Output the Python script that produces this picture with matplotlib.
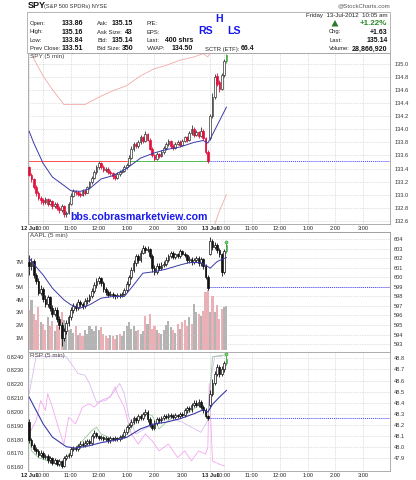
import matplotlib
matplotlib.use('Agg')
import matplotlib.pyplot as plt
from matplotlib.patches import Rectangle, Polygon

plt.rcParams['font.family'] = ['Liberation Sans', 'DejaVu Sans']

# ---------------- data ----------------
bar_pos = list(range(86))  # 5-min bars: 12 Jul 9:30-15:55 (0-77), 13 Jul 9:30-10:05 (78-85)
tick_pos = [0, 6, 18, 30, 42, 54, 66, 78, 84, 96, 108, 120, 132, 144]
tick_labels = ['12 Jul', '10:00', '11:00', '12:00', '1:00', '2:00', '3:00',
               '13 Jul', '10:00', '11:00', '12:00', '1:00', '2:00', '3:00']

spy_open = [133.42, 133.30, 133.24, 133.12, 133.02, 132.95, 132.92, 132.88, 132.93, 132.86,
            132.90, 132.82, 132.86, 132.80, 132.76, 132.82, 132.70, 132.72, 132.86, 132.98,
            133.05, 133.04, 133.01, 132.99, 133.06, 133.03, 133.11, 133.19, 133.26, 133.34,
            133.42, 133.48, 133.43, 133.38, 133.40, 133.35, 133.33, 133.29, 133.26, 133.32,
            133.35, 133.36, 133.42, 133.46, 133.56, 133.70, 133.78, 133.74, 133.80, 133.88,
            133.82, 133.93, 133.84, 133.70, 133.60, 133.55, 133.62, 133.59, 133.65, 133.71,
            133.78, 133.82, 133.75, 133.72, 133.78, 133.81, 133.76, 133.82, 133.88, 133.84,
            133.95, 134.01, 133.92, 133.96, 133.90, 133.98, 133.86, 133.66,
            133.86, 134.20, 134.50, 134.82, 134.72, 134.62, 134.84, 135.04]
spy_high = [133.44, 133.33, 133.26, 133.15, 133.05, 132.98, 132.95, 132.96, 132.95, 132.93,
            132.92, 132.89, 132.88, 132.83, 132.85, 132.84, 132.75, 132.88, 133.02, 133.08,
            133.07, 133.06, 133.04, 133.08, 133.08, 133.13, 133.21, 133.28, 133.37, 133.45,
            133.51, 133.50, 133.45, 133.42, 133.42, 133.38, 133.35, 133.31, 133.34, 133.37,
            133.39, 133.45, 133.49, 133.60, 133.74, 133.81, 133.80, 133.84, 133.91, 133.90,
            133.97, 133.94, 133.86, 133.73, 133.63, 133.65, 133.64, 133.68, 133.74, 133.80,
            133.85, 133.84, 133.77, 133.80, 133.84, 133.83, 133.85, 133.90, 133.90, 133.98,
            134.06, 134.03, 133.99, 133.97, 134.03, 134.00, 133.88, 133.68,
            134.24, 134.55, 134.85, 134.86, 134.75, 134.86, 135.08, 135.16]
spy_low = [133.28, 133.20, 133.08, 132.98, 132.92, 132.86, 132.84, 132.86, 132.82, 132.84,
           132.78, 132.80, 132.76, 132.72, 132.74, 132.66, 132.65, 132.70, 132.84, 132.96,
           133.00, 132.98, 132.96, 132.98, 133.00, 133.02, 133.09, 133.17, 133.24, 133.32,
           133.40, 133.40, 133.35, 133.35, 133.32, 133.30, 133.24, 133.22, 133.24, 133.29,
           133.33, 133.34, 133.40, 133.44, 133.54, 133.67, 133.71, 133.72, 133.78, 133.79,
           133.80, 133.82, 133.68, 133.57, 133.51, 133.53, 133.56, 133.57, 133.63, 133.69,
           133.75, 133.72, 133.69, 133.70, 133.76, 133.73, 133.74, 133.80, 133.81, 133.82,
           133.92, 133.89, 133.90, 133.86, 133.88, 133.84, 133.63, 133.49,
           133.84, 134.17, 134.46, 134.66, 134.58, 134.60, 134.80, 135.02]
spy_close = [133.30, 133.24, 133.12, 133.02, 132.95, 132.92, 132.88, 132.93, 132.86, 132.90,
             132.82, 132.86, 132.80, 132.76, 132.82, 132.70, 132.72, 132.86, 132.98, 133.05,
             133.04, 133.01, 132.99, 133.06, 133.03, 133.11, 133.19, 133.26, 133.34, 133.42,
             133.48, 133.43, 133.38, 133.40, 133.35, 133.33, 133.29, 133.26, 133.32, 133.35,
             133.36, 133.42, 133.46, 133.56, 133.70, 133.78, 133.74, 133.80, 133.88, 133.82,
             133.93, 133.84, 133.70, 133.60, 133.55, 133.62, 133.59, 133.65, 133.71, 133.78,
             133.82, 133.75, 133.72, 133.78, 133.81, 133.76, 133.82, 133.88, 133.84, 133.95,
             134.01, 133.92, 133.96, 133.90, 133.98, 133.86, 133.66, 133.51,
             134.20, 134.50, 134.80, 134.70, 134.62, 134.84, 135.04, 135.14]
spy_prev_close = 133.51
spy_ma_x = [0, 2, 6, 10, 15, 18, 22, 26, 31, 36, 42, 48, 54, 59, 65, 71, 75, 77, 79, 82, 85]
spy_ma_y = [133.97, 133.79, 133.48, 133.27, 133.14, 133.06, 133.05, 133.09, 133.24, 133.29,
            133.40, 133.56, 133.64, 133.69, 133.73, 133.80, 133.83, 133.79, 133.92, 134.13, 134.34]
spy_upper_x = [0, 2, 6, 10, 15, 24, 31, 36, 42, 48, 54, 59, 65, 71, 75, 77, 80]
spy_upper_y = [135.35, 135.08, 134.82, 134.61, 134.38, 134.38, 134.51, 134.59, 134.67, 134.82,
               134.93, 134.98, 135.06, 135.11, 135.16, 135.11, 135.30]
spy_lower_x = [78, 80, 82, 85]
spy_lower_y = [132.30, 132.55, 132.75, 133.00]

aapl_open = [601.6, 601.2, 601.7, 600.2, 599.6, 598.4, 598.8, 597.7, 597.2, 597.9,
             596.8, 596.2, 596.6, 595.6, 595.0, 593.6, 594.4, 595.2, 595.8, 596.6,
             597.0, 596.8, 597.4, 597.2, 597.0, 597.5, 597.6, 598.0, 598.6, 599.2,
             599.6, 599.9, 599.4, 598.8, 598.5, 598.2, 598.3, 598.1, 598.0, 598.2,
             598.1, 598.3, 598.7, 599.3, 600.0, 600.8, 601.5, 602.2, 601.8, 602.6,
             603.1, 602.9, 603.0, 602.2, 601.0, 600.6, 601.2, 601.0, 601.3, 601.4,
             601.8, 602.2, 602.6, 602.1, 602.4, 602.2, 602.8, 602.5, 602.3, 601.8,
             601.9, 601.6, 601.8, 602.0, 601.5, 601.9, 601.2, 600.0,
             602.5, 603.8, 603.2, 603.4, 602.9, 602.4, 600.6, 602.8]
aapl_high = [602.3, 602.0, 601.9, 600.5, 599.9, 599.2, 599.0, 598.1, 598.2, 598.0,
             597.1, 596.9, 596.9, 595.9, 595.3, 594.7, 595.5, 596.1, 596.9, 597.3,
             597.3, 597.7, 597.6, 597.4, 597.8, 597.9, 598.3, 598.9, 599.5, 599.9,
             600.1, 600.0, 599.6, 599.0, 598.7, 598.6, 598.5, 598.3, 598.4, 598.4,
             598.5, 598.9, 599.6, 600.3, 601.1, 601.8, 602.5, 602.4, 602.9, 603.4,
             603.3, 603.3, 603.1, 602.4, 601.3, 601.5, 601.5, 601.6, 601.7, 602.1,
             602.5, 602.8, 602.8, 602.6, 602.6, 603.0, 602.9, 602.7, 602.5, 602.2,
             602.1, 602.0, 602.2, 602.2, 602.1, 602.0, 601.4, 600.2,
             604.2, 604.0, 603.7, 603.6, 603.1, 602.6, 603.0, 603.6]
aapl_low = [600.2, 600.8, 599.9, 599.3, 598.1, 598.1, 597.4, 596.9, 596.9, 596.5,
            595.8, 595.9, 595.3, 594.6, 592.8, 593.3, 594.1, 594.9, 595.5, 596.3,
            596.5, 596.6, 596.9, 596.7, 596.8, 597.2, 597.4, 597.8, 598.4, 598.9,
            599.3, 599.1, 598.5, 598.2, 597.9, 598.0, 597.8, 597.7, 597.8, 597.8,
            597.9, 598.1, 598.5, 599.1, 599.8, 600.6, 601.2, 601.5, 601.6, 602.4,
            602.6, 602.7, 602.0, 600.6, 600.3, 600.4, 600.8, 600.8, 601.1, 601.2,
            601.6, 602.0, 601.9, 601.9, 602.0, 602.0, 602.3, 602.1, 601.5, 601.5,
            601.3, 601.4, 601.6, 601.2, 601.2, 600.9, 599.8, 598.7,
            602.3, 602.9, 603.0, 602.6, 602.1, 600.1, 600.4, 602.6]
aapl_close = [601.2, 601.7, 600.2, 599.6, 598.4, 598.8, 597.7, 597.2, 597.9, 596.8,
              596.2, 596.6, 595.6, 595.0, 593.6, 594.4, 595.2, 595.8, 596.6, 597.0,
              596.8, 597.4, 597.2, 597.0, 597.5, 597.6, 598.0, 598.6, 599.2, 599.6,
              599.9, 599.4, 598.8, 598.5, 598.2, 598.3, 598.1, 598.0, 598.2, 598.1,
              598.3, 598.7, 599.3, 600.0, 600.8, 601.5, 602.2, 601.8, 602.6, 603.1,
              602.9, 603.0, 602.2, 601.0, 600.6, 601.2, 601.0, 601.3, 601.4, 601.8,
              602.2, 602.6, 602.1, 602.4, 602.2, 602.8, 602.5, 602.3, 601.8, 601.9,
              601.6, 601.8, 602.0, 601.5, 601.9, 601.2, 600.0, 598.9,
              603.8, 603.2, 603.4, 602.9, 602.4, 600.6, 602.8, 603.4]
aapl_volume_m = [3.2, 4.0, 2.9, 2.4, 3.4, 2.2, 2.1, 1.6, 2.6, 1.9,
                 2.3, 1.5, 2.0, 1.8, 3.0, 2.4, 1.9, 1.6, 1.7, 1.4,
                 1.9, 1.2, 1.4, 1.1, 1.6, 1.3, 1.9, 1.7, 1.5, 1.9,
                 1.6, 1.8, 1.3, 1.1, 1.0, 1.2, 1.1, 0.9, 1.2, 1.3,
                 1.1, 1.5, 1.9, 2.2, 1.7, 1.9, 1.5, 1.6, 1.3, 1.5,
                 2.7, 2.1, 2.9, 1.7, 1.9, 1.6, 1.4, 1.3, 1.6, 2.0,
                 2.3, 1.8, 1.6, 1.4, 2.1, 1.7, 2.2, 2.4, 1.9, 2.6,
                 2.1, 3.7, 3.0, 2.9, 2.7, 3.1, 4.6, 4.8,
                 3.0, 4.3, 3.0, 3.6, 2.5, 3.3, 3.4, 3.5]
aapl_prev_close = 598.95
aapl_ma_x = [0, 3, 6, 10, 15, 18, 22, 26, 31, 36, 41, 45, 49, 54, 59, 65, 69, 74, 77, 78, 81, 85]
aapl_ma_y = [602.0, 601.1, 600.26, 598.87, 597.64, 597.12, 596.77, 597.12, 597.82, 597.99,
             597.99, 599.2, 600.44, 600.6, 600.86, 601.3, 601.55, 601.55, 601.13, 600.96,
             601.66, 602.1]

rsp_open = [48.23, 48.06, 48.02, 47.98, 47.96, 47.93, 47.95, 47.91, 47.92, 47.88,
            47.90, 47.86, 47.88, 47.85, 47.87, 47.83, 47.90, 47.92, 47.93, 47.98,
            47.99, 47.98, 48.01, 48.03, 48.02, 48.04, 48.05, 48.04, 48.10, 48.13,
            48.10, 48.08, 48.09, 48.07, 48.08, 48.06, 48.08, 48.07, 48.08, 48.07,
            48.09, 48.10, 48.14, 48.18, 48.20, 48.23, 48.26, 48.24, 48.28, 48.26,
            48.30, 48.32, 48.25, 48.20, 48.17, 48.22, 48.25, 48.24, 48.26, 48.28,
            48.27, 48.29, 48.28, 48.27, 48.29, 48.28, 48.30, 48.29, 48.33, 48.35,
            48.34, 48.38, 48.40, 48.38, 48.41, 48.36, 48.33, 48.28,
            48.38, 48.48, 48.58, 48.66, 48.72, 48.66, 48.70, 48.76]
rsp_high = [48.25, 48.08, 48.04, 48.00, 47.98, 47.97, 47.96, 47.94, 47.94, 47.92,
            47.91, 47.90, 47.89, 47.89, 47.88, 47.92, 47.94, 47.95, 48.00, 48.01,
            48.01, 48.03, 48.05, 48.05, 48.06, 48.07, 48.07, 48.12, 48.15, 48.14,
            48.11, 48.11, 48.10, 48.10, 48.09, 48.10, 48.09, 48.10, 48.09, 48.11,
            48.12, 48.16, 48.20, 48.22, 48.25, 48.28, 48.27, 48.30, 48.30, 48.32,
            48.34, 48.33, 48.27, 48.22, 48.24, 48.27, 48.27, 48.28, 48.30, 48.30,
            48.31, 48.31, 48.30, 48.31, 48.30, 48.32, 48.32, 48.35, 48.37, 48.37,
            48.40, 48.42, 48.42, 48.43, 48.42, 48.38, 48.35, 48.29,
            48.51, 48.61, 48.69, 48.75, 48.74, 48.73, 48.78, 48.83]
rsp_low = [48.04, 48.00, 47.96, 47.94, 47.91, 47.91, 47.89, 47.89, 47.86, 47.86,
           47.84, 47.85, 47.83, 47.83, 47.81, 47.82, 47.88, 47.90, 47.91, 47.96,
           47.96, 47.96, 47.99, 48.00, 48.00, 48.02, 48.02, 48.02, 48.08, 48.08,
           48.06, 48.06, 48.05, 48.05, 48.04, 48.04, 48.05, 48.05, 48.05, 48.05,
           48.07, 48.08, 48.12, 48.16, 48.18, 48.21, 48.22, 48.22, 48.24, 48.24,
           48.28, 48.23, 48.18, 48.15, 48.15, 48.20, 48.22, 48.22, 48.24, 48.25,
           48.25, 48.26, 48.25, 48.25, 48.26, 48.26, 48.27, 48.27, 48.31, 48.32,
           48.32, 48.36, 48.36, 48.36, 48.34, 48.31, 48.26, 48.24,
           48.35, 48.46, 48.56, 48.64, 48.63, 48.64, 48.68, 48.74]
rsp_close = [48.06, 48.02, 47.98, 47.96, 47.93, 47.95, 47.91, 47.92, 47.88, 47.90,
             47.86, 47.88, 47.85, 47.87, 47.83, 47.90, 47.92, 47.93, 47.98, 47.99,
             47.98, 48.01, 48.03, 48.02, 48.04, 48.05, 48.04, 48.10, 48.13, 48.10,
             48.08, 48.09, 48.07, 48.08, 48.06, 48.08, 48.07, 48.08, 48.07, 48.09,
             48.10, 48.14, 48.18, 48.20, 48.23, 48.26, 48.24, 48.28, 48.26, 48.30,
             48.32, 48.25, 48.20, 48.17, 48.22, 48.25, 48.24, 48.26, 48.28, 48.27,
             48.29, 48.28, 48.27, 48.29, 48.28, 48.30, 48.29, 48.33, 48.35, 48.34,
             48.38, 48.40, 48.38, 48.41, 48.36, 48.33, 48.28, 48.26,
             48.48, 48.58, 48.66, 48.72, 48.66, 48.70, 48.76, 48.79]
rsp_prev_close = 48.26
rsp_ma_x = [0, 6, 10, 16, 20, 26, 31, 36, 42, 48, 54, 59, 65, 71, 75, 77, 79, 82, 85]
rsp_ma_y = [48.45, 48.21, 48.09, 48.003, 47.99, 48.012, 48.04, 48.057, 48.087, 48.164,
            48.209, 48.224, 48.255, 48.30, 48.336, 48.315, 48.385, 48.45, 48.51]
rsp_green_x = [0, 1, 4, 10, 13, 15, 17, 20, 23, 27, 29, 31, 36, 40, 43, 46, 50, 53, 56, 59,
               62, 66, 70, 73, 76, 77, 78, 79, 84]
rsp_green_y = [48.118, 47.966, 47.905, 47.86, 47.83, 47.845, 47.936, 47.996, 48.057, 48.148,
               48.178, 48.118, 48.073, 48.073, 48.133, 48.239, 48.30, 48.285, 48.164, 48.224,
               48.269, 48.285, 48.33, 48.375, 48.33, 48.239, 48.512, 48.815, 48.83]
rsp_lav_x = [0, 3, 16, 18, 21, 24, 26, 29, 33, 36, 39, 41, 43, 46, 51, 56, 60, 66, 70, 74,
             77, 78, 80, 83]
rsp_lav_y = [48.482, 48.815, 48.815, 48.755, 48.664, 48.648, 48.573, 48.405, 48.42, 48.482,
             48.573, 48.482, 48.269, 48.118, 48.178, 48.224, 48.269, 48.224, 48.178, 48.133,
             48.239, 48.573, 48.815, 48.815]
rsp_pink_x = [0, 3, 5, 7, 8, 10, 13, 15, 17, 20, 23, 26, 28, 31, 35, 37, 38, 41, 44, 47,
              50, 53, 56, 60, 64, 67, 70, 73, 76, 77, 77.6, 79, 82, 84]
rsp_pink_y = [48.118, 48.239, 48.42, 48.33, 48.482, 48.36, 48.148, 48.027, 48.269, 48.209,
              48.36, 48.391, 48.36, 48.42, 48.451, 48.542, 48.482, 48.36, 48.118, 48.027,
              48.118, 48.057, 47.966, 48.027, 47.905, 47.966, 47.875, 47.966, 47.936, 47.996,
              48.573, 47.875, 47.845, 47.83]

# ---------------- style helpers ----------------
W, H = 416, 480
fig = plt.figure(figsize=(W / 100, H / 100), dpi=100)
fig.patch.set_facecolor('white')

RED = '#e0103c'
BLACK = '#111111'
GREEN = '#2a9a2a'
BLUE_MA = '#3a3aa8'
GRID = '#c4c4c4'
SPINE = '#a0a0a0'
TICK_FS = 4.1


def rect(x0, y0, x1, y1):
    return [x0 / W, 1 - y1 / H, (x1 - x0) / W, (y1 - y0) / H]


def style_axes(ax, show_xlabels):
    ax.set_xlim(-0.5, 155.5)
    ax.set_xticks(tick_pos)
    if show_xlabels:
        ax.set_xticklabels(tick_labels)
        for lab in ax.get_xticklabels():
            if 'Jul' in lab.get_text():
                lab.set_fontweight('bold')
    else:
        ax.set_xticklabels([])
    ax.tick_params(axis='x', length=0, labelsize=TICK_FS, pad=1.5, colors='#222222')
    ax.yaxis.tick_right()
    ax.tick_params(axis='y', length=0, labelsize=TICK_FS, pad=3, colors='#333333')
    ax.grid(True, color=GRID, linestyle=(0, (1, 1.5)), linewidth=0.5)
    ax.set_axisbelow(True)
    for s in ax.spines.values():
        s.set_color(SPINE)
        s.set_linewidth(0.6)


def draw_candles(ax, o, h, l, c, colored):
    n = len(c)
    for i in range(n):
        down = c[i] < o[i]
        col = (RED if (colored and down) else BLACK)
        if colored and not down:
            col = '#333333'
        if i == n - 1:
            col = GREEN
        face = col if down else 'white'
        ax.vlines(bar_pos[i], l[i], h[i], color=col, lw=0.6, zorder=3)
        lo = min(o[i], c[i])
        ht = max(abs(c[i] - o[i]), 1e-6)
        ax.add_patch(Rectangle((bar_pos[i] - 0.38, lo), 0.76, ht, facecolor=face,
                               edgecolor=col, lw=0.5, zorder=4))


def panel_label(ax, text):
    ax.text(0.006, 0.993, text, transform=ax.transAxes, ha='left', va='top',
            fontsize=4.6, color='#444444', zorder=6)


# ---------------- SPY panel ----------------
ax1 = fig.add_axes(rect(28, 53, 390, 224))
style_axes(ax1, True)
ax1.set_ylim(132.55, 135.17)
ax1.set_yticks([132.6 + 0.2 * k for k in range(13)])
ax1.set_yticklabels(['%.1f' % (132.6 + 0.2 * k) for k in range(13)])
ax1.plot(spy_upper_x, spy_upper_y, color='#f2aaaa', lw=0.6, zorder=2)
ax1.plot(spy_lower_x, spy_lower_y, color='#f2aaaa', lw=0.6, zorder=2)
ax1.hlines(spy_prev_close, -0.5, 43, color='#ff5050', lw=0.7, zorder=2)
ax1.hlines(spy_prev_close, 43, 77.4, color='#50c050', lw=0.7, zorder=2)
ax1.hlines(spy_prev_close, 77.4, 155.5, color='#4040ff', lw=0.7, linestyle=(0, (1, 1)), zorder=2)
ax1.plot(spy_ma_x, spy_ma_y, color=BLUE_MA, lw=0.7, zorder=5)
draw_candles(ax1, spy_open, spy_high, spy_low, spy_close, True)
panel_label(ax1, 'SPY (5 min)')

# ---------------- AAPL panel ----------------
ax2v = fig.add_axes(rect(28, 232, 390, 352))
ax2 = ax2v.twinx()
ax2v.set_xlim(-0.5, 155.5)
ax2v.set_ylim(-0.15, 9.39)
vcols = ['#eab0b6' if c < o else '#b4b4b4' for o, c in zip(aapl_open, aapl_close)]
ax2v.bar(bar_pos, aapl_volume_m, width=0.9, color=vcols, zorder=1)
ax2v.yaxis.tick_left()
ax2v.set_yticks([1, 2, 3, 4, 5, 6, 7])
ax2v.set_yticklabels(['1M', '2M', '3M', '4M', '5M', '6M', '7M'])
ax2v.tick_params(axis='y', length=0, labelsize=TICK_FS, pad=3, colors='#333333')
ax2v.set_xticks([])
for s in ax2v.spines.values():
    s.set_color(SPINE)
    s.set_linewidth(0.6)
ax2.patch.set_visible(False)
style_axes(ax2, False)
ax2.set_ylim(592.17, 604.76)
ax2.set_yticks(list(range(593, 605)))
ax2.set_yticklabels([str(v) for v in range(593, 605)])
ax2.hlines(aapl_prev_close, 77.4, 155.5, color='#4040ff', lw=0.7, linestyle=(0, (1, 1)), zorder=2)
ax2.plot(aapl_ma_x, aapl_ma_y, color=BLUE_MA, lw=0.7, zorder=5)
draw_candles(ax2, aapl_open, aapl_high, aapl_low, aapl_close, False)
ax2.plot([bar_pos[-1]], [aapl_high[-1] + 0.15], marker='o', ms=2.2, mfc='#7ed07e', mec=GREEN,
         mew=0.4, zorder=6)
panel_label(ax2, 'AAPL (5 min)')

# ---------------- RSP panel ----------------
ax3 = fig.add_axes(rect(28, 352, 390, 471))
ax3l = ax3.twinx()
style_axes(ax3, True)
ax3.set_ylim(47.784, 48.857)
ax3.set_yticks([47.9 + 0.1 * k for k in range(10)])
ax3.set_yticklabels(['%.1f' % (47.9 + 0.1 * k) for k in range(10)])
ax3.plot(rsp_lav_x, rsp_lav_y, color='#d8bdf2', lw=0.6, zorder=2)
ax3.plot(rsp_pink_x, rsp_pink_y, color='#f4a8f0', lw=0.6, zorder=2)
ax3.plot(rsp_green_x, rsp_green_y, color='#98c898', lw=0.6, zorder=2)
ax3.hlines(rsp_prev_close, 77.4, 155.5, color='#4040ff', lw=0.7, linestyle=(0, (1, 1)), zorder=2)
ax3.plot(rsp_ma_x, rsp_ma_y, color=BLUE_MA, lw=0.8, zorder=5)
draw_candles(ax3, rsp_open, rsp_high, rsp_low, rsp_close, False)
ax3.plot([bar_pos[-1]], [rsp_high[-1] + 0.01], marker='o', ms=2.2, mfc='#7ed07e', mec=GREEN,
         mew=0.4, zorder=6)
panel_label(ax3, 'RSP (5 min)')
ax3l.patch.set_visible(False)
ax3l.set_ylim(0.81572, 0.82434)
ax3l.yaxis.tick_left()
ax3l.set_yticks([0.8160 + 0.001 * k for k in range(9)])
ax3l.set_yticklabels(['%.4f' % (0.8160 + 0.001 * k) for k in range(9)])
ax3l.tick_params(axis='y', length=0, labelsize=TICK_FS, pad=3, colors='#333333')
for s in ax3l.spines.values():
    s.set_visible(False)

# ---------------- header overlay ----------------
hd = fig.add_axes([0, 0, 1, 1], zorder=10)
hd.set_xlim(0, W)
hd.set_ylim(H, 0)
hd.axis('off')
hd.patch.set_alpha(0)

hd.text(28, 6, 'SPY', fontsize=6.5, fontweight='bold', va='center', ha='left', color='#111')
hd.text(44, 6.3, '(S&P 500 SPDRs) NYSE', fontsize=4.1, va='center', ha='left', color='#333')
hd.text(390, 6, '@StockCharts.com', fontsize=4.4, va='center', ha='right', color='#555')
hd.add_patch(Rectangle((27, 12), 363, 41, facecolor='none', edgecolor='#aaaaaa', lw=0.6))

LFS, VFS = 4.2, 5.0
rows_y = [23.5, 32, 40.7, 49]
col1 = [('Open:', '133.86'), ('High:', '135.16'), ('Low:', '133.84'), ('Prev Close:', '133.51')]
col2 = [('Ask:', '135.15'), ('Ask Size:', '43'), ('Bid:', '135.14'), ('Bid Size:', '350')]
for y, (lab, val) in zip(rows_y, col1):
    hd.text(30, y, lab, fontsize=LFS, va='center', ha='left', color='#222')
    hd.text(83, y, val, fontsize=VFS, va='center', ha='right', fontweight='bold', color='#111')
for y, (lab, val) in zip(rows_y, col2):
    hd.text(97, y, lab, fontsize=LFS, va='center', ha='left', color='#222')
    hd.text(133, y, val, fontsize=VFS, va='center', ha='right', fontweight='bold', color='#111')
hd.text(146.5, rows_y[0], 'P/E:', fontsize=LFS, va='center', ha='left', color='#222')
hd.text(146.5, rows_y[1], 'EPS:', fontsize=LFS, va='center', ha='left', color='#222')
hd.text(146.5, rows_y[2], 'Last:', fontsize=LFS, va='center', ha='left', color='#222')
hd.text(193, rows_y[2], '400 shrs', fontsize=VFS, va='center', ha='right', fontweight='bold', color='#111')
hd.text(146.5, rows_y[3], 'VWAP:', fontsize=LFS, va='center', ha='left', color='#222')
hd.text(193, rows_y[3], '134.50', fontsize=VFS, va='center', ha='right', fontweight='bold', color='#111')
hd.text(205, rows_y[3], 'SCTR (ETF):', fontsize=LFS, va='center', ha='left', color='#222')
hd.text(241, rows_y[3], '66.4', fontsize=VFS, va='center', ha='left', fontweight='bold', color='#111')

hd.text(219, 19.5, 'H', fontsize=7.6, fontweight='bold', color='#1515ee', ha='center', va='center')
hd.text(206, 31, 'RS', fontsize=7.6, fontweight='bold', color='#1515ee', ha='center', va='center')
hd.text(234.5, 31, 'LS', fontsize=7.6, fontweight='bold', color='#1515ee', ha='center', va='center')

hd.text(387.5, 15, 'Friday  13-Jul-2012  10:05 am', fontsize=4.4, va='center', ha='right', color='#222')
hd.add_patch(Polygon([[331.5, 26.5], [338.5, 26.5], [335, 20]], closed=True,
                     facecolor='#2a7a2a', edgecolor='none'))
hd.text(387.5, 23.5, '+1.22%', fontsize=5.8, va='center', ha='right', color='#2a8a2a', fontweight='bold')
right_rows = [('Chg:', '+1.63'), ('Last:', '135.14'), ('Volume:', '28,866,920')]
for y, (lab, val) in zip(rows_y[1:], right_rows):
    hd.text(329, y, lab, fontsize=LFS, va='center', ha='left', color='#222')
    hd.text(387.5, y, val, fontsize=VFS, va='center', ha='right', fontweight='bold', color='#111')

hd.text(70, 217.5, 'bbs.cobrasmarketview.com', fontsize=7.6, fontweight='bold',
        color='#1a1aee', ha='left', va='center')

fig.savefig('out.png', dpi=100, facecolor='white')
